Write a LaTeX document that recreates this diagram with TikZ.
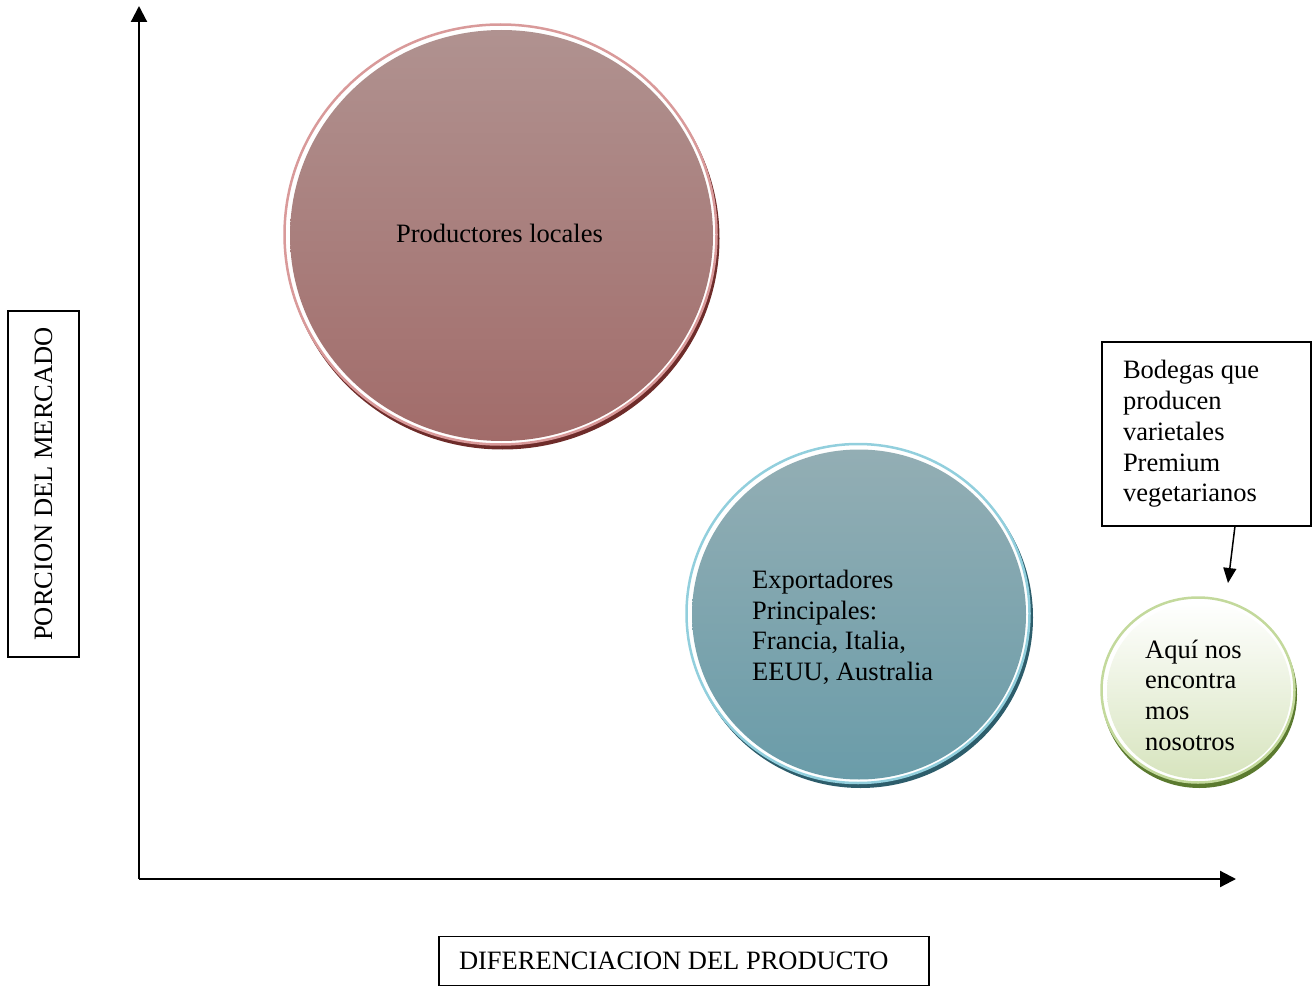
\documentclass[tikz,border=0pt]{standalone}
\usepackage{fontspec}
\setmainfont{Liberation Serif}
\usetikzlibrary{arrows.meta}

\definecolor{redTop}{HTML}{B09290}
\definecolor{redBot}{HTML}{A26C6A}
\definecolor{redRing}{HTML}{D99A9A}
\definecolor{redShade}{HTML}{6E2C2A}
\definecolor{blueTop}{HTML}{93AEB4}
\definecolor{blueBot}{HTML}{6A9CA9}
\definecolor{blueRing}{HTML}{92CFDD}
\definecolor{blueShade}{HTML}{2D5D6B}
\definecolor{greenTop}{HTML}{FFFFFF}
\definecolor{greenBot}{HTML}{D7E4BE}
\definecolor{greenRing}{HTML}{C3D99C}
\definecolor{greenShade}{HTML}{5B7A2F}

\begin{document}
\begin{tikzpicture}[x=1pt,y=-1pt,
  every node/.style={font=\fontsize{26.5}{30.7}\selectfont, inner sep=0pt},
  axis/.style={line width=2.2pt, -{Triangle[length=16pt,width=16pt]}},
  pointer/.style={line width=1.5pt, -{Triangle[length=15pt,width=13pt]}},
  labelbox/.style={draw, line width=1.4pt},
  halo/.style={draw=#1, line width=2.5pt, fill=white},
  bubbletext/.style={align=left, anchor=north west}
]
\useasboundingbox (0,0) rectangle (1312,987);

% axes
\coordinate (O) at (139,879);
\coordinate (Ytip) at (139,6);
\coordinate (Xtip) at (1236,879);
\draw[axis] (O) -- (Ytip);
\draw[axis] (O) -- (Xtip);

% axis captions
\node[labelbox, rotate=90, minimum width=346pt, minimum height=71pt] (ylab) at (43.5,484) {PORCION DEL MERCADO};
\node[labelbox, minimum width=490pt, minimum height=49pt, text width=450pt, inner xsep=20pt, align=flush left] (xlab) at (684,961) {DIFERENCIACION DEL PRODUCTO};

% bubble: local producers
\fill[redShade] (502.5,238.5) ellipse [x radius=217, y radius=211];
\filldraw[halo=redRing] (500.5,234.5) ellipse [x radius=216, y radius=210];
\shade[top color=redTop, bottom color=redBot] (501.5,235.5) ellipse [x radius=211.5, y radius=205.5];
\node (loc) at (499.5,233) {Productores locales};

% bubble: main exporters
\fill[blueShade] (860.5,617.5) ellipse [x radius=172.5, y radius=170.5];
\filldraw[halo=blueRing] (858,613.5) ellipse [x radius=171.5, y radius=169.5];
\shade[top color=blueTop, bottom color=blueBot] (859,614.5) ellipse [x radius=167, y radius=165];
\node[bubbletext] (exp) at (752,570) {Exportadores\\Principales:\\Francia, Italia,\\EEUU, Australia};

% bubble: our position
\fill[greenShade] (1199.5,694.5) ellipse [x radius=97.5, y radius=93.5];
\filldraw[halo=greenRing] (1198,690) ellipse [x radius=96.5, y radius=92.5];
\shade[top color=greenTop, bottom color=greenBot] (1199,691) ellipse [x radius=92, y radius=88];
\node[bubbletext] (us) at (1145,639.5) {Aquí nos\\encontra\\mos\\nosotros};

% niche description
\node[labelbox, text width=167pt, inner xsep=21pt, minimum height=184pt, align=flush left] (niche) at (1206.5,434) {Bodegas que\\producen\\varietales\\Premium\\vegetarianos};
\coordinate (nicheFoot) at (1235,526);
\coordinate (usTop) at (1228,583);
\draw[pointer] (nicheFoot) -- (usTop);
\end{tikzpicture}
\end{document}
